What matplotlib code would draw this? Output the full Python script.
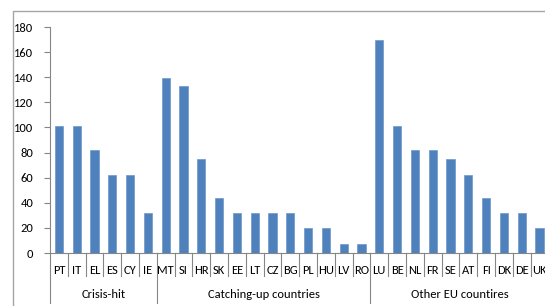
import matplotlib
matplotlib.use('Agg')
import matplotlib.pyplot as plt
from matplotlib.lines import Line2D
from matplotlib.transforms import blended_transform_factory

# Data
countries = ['PT', 'IT', 'EL', 'ES', 'CY', 'IE',
             'MT', 'SI', 'HR', 'SK', 'EE', 'LT', 'CZ', 'BG', 'PL', 'HU', 'LV', 'RO',
             'LU', 'BE', 'NL', 'FR', 'SE', 'AT', 'FI', 'DK', 'DE', 'UK']
values = [101, 101, 82, 62, 62, 32,
          139, 133, 75, 44, 32, 32, 32, 32, 20, 20, 7, 7,
          170, 101, 82, 82, 75, 62, 44, 32, 32, 20]
groups = ['Crisis-hit', 'Catching-up countries', 'Other EU countires']
groupSizes = [6, 12, 10]
yTicks = [0, 20, 40, 60, 80, 100, 120, 140, 160, 180]

W, H = 545, 306
barColor = '#4F81BD'
axisColor = '#868686'
fontName = ['Carlito', 'Liberation Sans', 'DejaVu Sans']
fs = 9

plt.rcParams['font.family'] = fontName

fig = plt.figure(figsize=(W/100, H/100), dpi=100)
# axes placed in pixel terms, right side runs past the figure edge like the reference
ax = fig.add_axes([50/W, (H-253)/H, 498.4/W, 226/H])

xs = list(range(len(countries)))
ax.bar(xs, values, width=0.45, color=barColor, edgecolor='#6E98CC', linewidth=0.5, zorder=2)

ax.set_xlim(-0.5, len(countries) - 0.5)
ax.set_ylim(0, 180)
ax.set_yticks(yTicks)
ax.tick_params(axis='y', direction='out', length=4, width=0.8, color=axisColor,
               labelsize=fs, pad=8)
ax.set_xticks([])

for s in ['top', 'right']:
    ax.spines[s].set_visible(False)
for s in ['left', 'bottom']:
    ax.spines[s].set_color(axisColor)
    ax.spines[s].set_linewidth(0.8)

trans = blended_transform_factory(ax.transData, ax.transAxes)
lvl1 = -23/226
lvl2 = -50/226

# group boundaries
bounds = [-0.5]
for g in groupSizes:
    bounds.append(bounds[-1] + g)

for i in range(len(countries) + 1):
    xb = -0.5 + i
    yEnd = lvl2 if xb in bounds else lvl1
    ax.add_line(Line2D([xb, xb], [0, yEnd], transform=trans, color=axisColor,
                       linewidth=0.8, clip_on=False))

for x, c in zip(xs, countries):
    ax.text(x, -17/226, c, transform=trans, ha='center', va='center', fontsize=fs)

for i, g in enumerate(groups):
    mid = (bounds[i] + bounds[i+1]) / 2
    ax.text(mid, -41/226, g, transform=trans, ha='center', va='center', fontsize=fs)

# outer chart frame (left and top)
fig.add_artist(Line2D([13/W, 13/W, 1.0], [0, 1 - 11/H, 1 - 11/H], transform=fig.transFigure,
                      color='#A6A6A6', linewidth=1.0))

fig.savefig('out.png', dpi=100)
